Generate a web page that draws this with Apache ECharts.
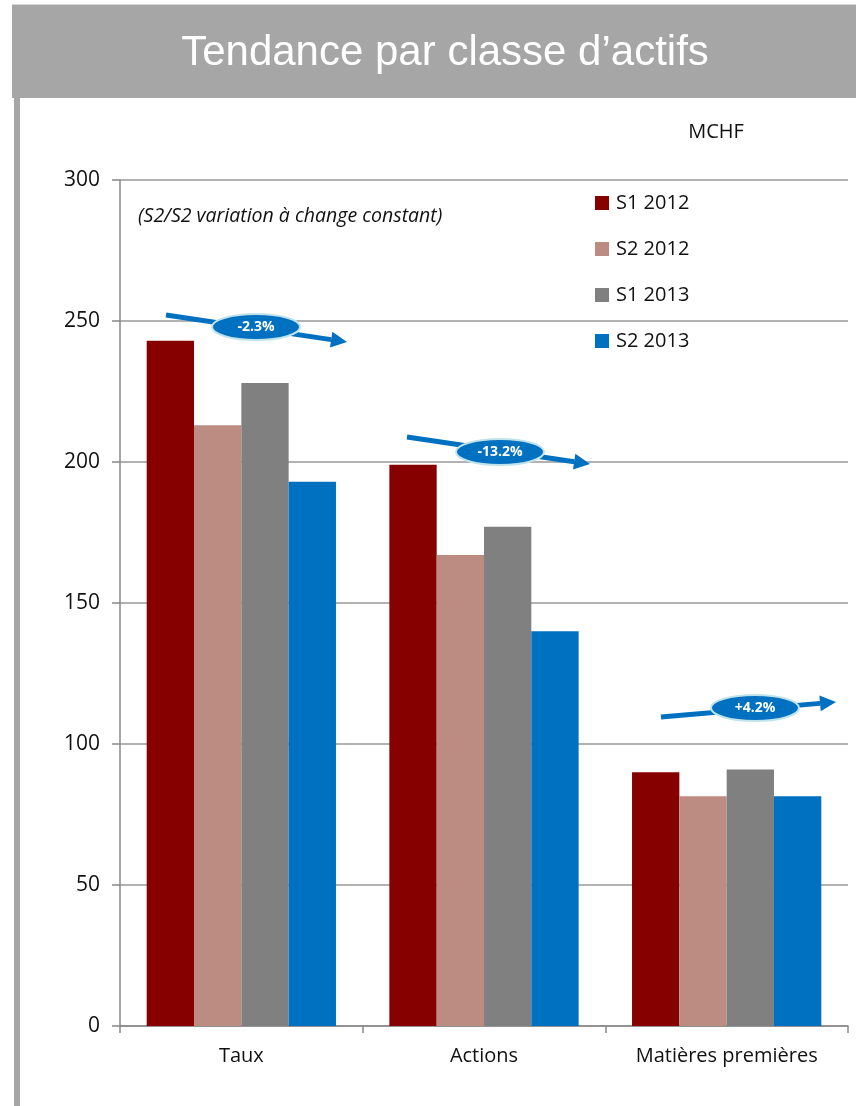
<!DOCTYPE html>
<html><head><meta charset="utf-8">
<script src="https://cdn.jsdelivr.net/npm/echarts@6/dist/echarts.min.js"></script>
<style>html,body{margin:0;padding:0;background:#fff}#c{width:856px;height:1106px}</style>
</head><body><div id="c"></div>
<script>
const categories = ['Taux', 'Actions', 'Matières premières'];
const seriesNames = ['S1 2012', 'S2 2012', 'S1 2013', 'S2 2013'];
const s1_2012 = [243, 199, 90];
const s2_2012 = [213, 167, 81.5];
const s1_2013 = [228, 177, 91];
const s2_2013 = [193, 140, 81.5];
const yTicks = [0, 50, 100, 150, 200, 250, 300];
const variations = ['-2.3%', '-13.2%', '+4.2%'];

const colors = ['#860000', '#BC8B81', '#808080', '#0070C0'];
const font = "'Open Sans', 'Noto Sans', sans-serif";
const chart = echarts.init(document.getElementById('c'));

function arrow(x1, y1, x2, y2, cx, cy, label) {
  const ang = Math.atan2(y2 - y1, x2 - x1);
  const L = 16, W = 8;
  const bx = x2 - L * Math.cos(ang), by = y2 - L * Math.sin(ang);
  const px = -Math.sin(ang), py = Math.cos(ang);
  return [
    {type: 'line', z: 100, shape: {x1, y1, x2: bx, y2: by}, style: {stroke: '#0070C0', lineWidth: 5}},
    {type: 'polygon', z: 100, shape: {points: [[x2, y2], [bx + px * W, by + py * W], [bx - px * W, by - py * W]]}, style: {fill: '#0070C0'}},
    {type: 'ellipse', z: 101, shape: {cx, cy, rx: 44, ry: 13}, style: {fill: '#0070C0', stroke: '#BFE3EA', lineWidth: 2}},
    {type: 'text', z: 102, x: cx, y: cy, style: {text: label, fill: '#fff', font: 'bold 14px ' + font, align: 'center', verticalAlign: 'middle'}}
  ];
}

const data = [s1_2012, s2_2012, s1_2013, s2_2013];
chart.setOption({
  animation: false,
  backgroundColor: '#fff',
  grid: {left: 120, top: 180, right: 8, bottom: 80},
  legend: {
    orient: 'vertical', left: 590, top: 188, itemGap: 26, itemWidth: 14, itemHeight: 14, icon: 'rect',
    textStyle: {fontFamily: font, fontSize: 20, color: '#111', padding: [0, 0, 0, 2]},
    data: seriesNames
  },
  xAxis: {
    type: 'category', data: categories,
    axisLine: {lineStyle: {color: '#888', width: 1.5}},
    axisTick: {show: true, length: 7, lineStyle: {color: '#888', width: 1.5}},
    axisLabel: {fontFamily: font, fontSize: 20, color: '#111', margin: 20}
  },
  yAxis: {
    type: 'value', min: 0, max: 300, interval: 50,
    axisLine: {show: true, lineStyle: {color: '#888', width: 1.5}},
    axisTick: {show: true, length: 8, lineStyle: {color: '#888', width: 1.5}},
    axisLabel: {fontFamily: font, fontSize: 21, color: '#111', margin: 20,
      formatter: v => yTicks.includes(v) ? String(v) : ''},
    splitLine: {lineStyle: {color: '#999', width: 1.5}}
  },
  series: seriesNames.map((n, i) => ({
    name: n, type: 'bar', data: data[i], barGap: '0%', barCategoryGap: '22%',
    itemStyle: {color: colors[i]}
  })),
  graphic: [
    {type: 'rect', z: -1, shape: {x: 12, y: 4, width: 844, height: 94}, style: {fill: '#A6A6A6'}},
    {type: 'rect', z: -1, shape: {x: 12, y: 4, width: 844, height: 1}, style: {fill: '#D9D9D9'}},
    {type: 'rect', z: -1, shape: {x: 14, y: 98, width: 6, height: 1008}, style: {fill: '#A6A6A6'}},
    {type: 'text', x: 445, y: 53, style: {text: 'Tendance par classe d\u2019actifs', fill: '#fff',
      font: "42px 'Liberation Sans Narrow', 'Liberation Sans', sans-serif", align: 'center', verticalAlign: 'middle'}},
    {type: 'text', x: 716, y: 132, style: {text: 'MCHF', fill: '#111', font: '20px ' + font, align: 'center', verticalAlign: 'middle'}},
    {type: 'text', x: 138, y: 216, style: {text: '(S2/S2 variation à change constant)', fill: '#111', font: 'italic 19.5px ' + font, align: 'left', verticalAlign: 'middle'}},
    ...arrow(166, 315, 347, 342, 256, 327, variations[0]),
    ...arrow(407, 437, 590, 464, 500, 452, variations[1]),
    ...arrow(661, 717, 836, 702, 755, 708, variations[2])
  ]
});
</script></body></html>
